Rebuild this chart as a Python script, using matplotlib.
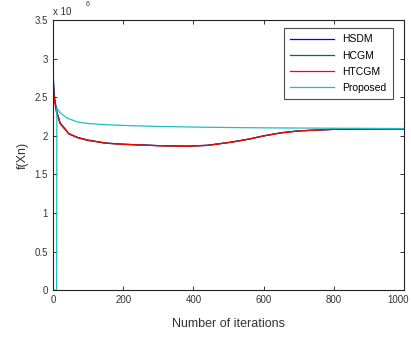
import numpy as np
import matplotlib.pyplot as plt
import matplotlib.transforms as mtransforms

plt.rcParams['font.family'] = ['Liberation Sans', 'DejaVu Sans']

it_main = [0, 2, 5, 10, 20, 45, 70, 100, 150, 200, 300, 380, 440, 510, 560, 600, 650, 700, 800, 900, 1000]
hsdm = [2.85, 2.65, 2.48, 2.33, 2.17, 2.03, 1.98, 1.945, 1.907, 1.892, 1.874, 1.867, 1.878, 1.92, 1.96, 2.0, 2.04, 2.065, 2.085, 2.09, 2.09]
hcgm = [2.8, 2.62, 2.46, 2.32, 2.165, 2.028, 1.978, 1.943, 1.906, 1.891, 1.873, 1.866, 1.877, 1.92, 1.96, 2.0, 2.04, 2.065, 2.085, 2.09, 2.09]
htcgm = [2.7, 2.56, 2.43, 2.3, 2.16, 2.025, 1.975, 1.94, 1.905, 1.89, 1.872, 1.865, 1.876, 1.919, 1.959, 1.999, 2.039, 2.064, 2.084, 2.089, 2.09]

it_prop = [0, 1, 10, 11, 20, 40, 70, 100, 150, 200, 300, 400, 500, 600, 800, 1000]
proposed = [3.15, 0, 0, 2.36, 2.3, 2.23, 2.18, 2.16, 2.145, 2.135, 2.122, 2.114, 2.108, 2.104, 2.099, 2.095]

fig = plt.figure(figsize=(4.11, 3.41), dpi=100)
ax = fig.add_axes([0.129, 0.149, 0.854, 0.792])

ax.plot(it_main, np.array(hsdm) * 1e6, color='#0000ff', lw=0.9, label='HSDM')
ax.plot(it_main, np.array(hcgm) * 1e6, color='#006f3a', lw=0.9, label='HCGM')
ax.plot(it_main, np.array(htcgm) * 1e6, color='#ff0000', lw=0.9, label='HTCGM')
ax.plot(it_prop, np.array(proposed) * 1e6, color='#1fbfbf', lw=0.9, label='Proposed')

ax.set_xlim(0, 1000)
ax.set_ylim(0, 3.5e6)
ax.set_xticks(range(0, 1001, 200))
ax.set_yticks(np.arange(0, 3.51e6, 0.5e6))
ax.set_yticklabels(['0', '0.5', '1', '1.5', '2', '2.5', '3', '3.5'])
ax.tick_params(direction='in', length=3, width=0.7, labelsize=7, colors='#333333',
               top=True, right=True)
for s in ax.spines.values():
    s.set_linewidth(0.8)
    s.set_color('#222222')

# pull the last x label inside the figure
last = ax.get_xticklabels()[-1]
last.set_transform(last.get_transform() + mtransforms.ScaledTranslation(-0.06, 0, fig.dpi_scale_trans))

ax.set_xlabel('Number of iterations', fontsize=9, color='#333333', labelpad=9)
ax.set_ylabel('f(Xn)', fontsize=9, color='#333333', labelpad=4)
ax.text(0, 1.012, 'x 10', transform=ax.transAxes, fontsize=7, color='#333333', va='bottom')
ax.text(0.093, 1.045, '6', transform=ax.transAxes, fontsize=5, color='#333333', va='bottom')

leg = ax.legend(loc='upper right', fontsize=7.5, frameon=True, fancybox=False,
                edgecolor='#222222', borderpad=0.6, handlelength=4.2, labelspacing=0.6,
                bbox_to_anchor=(0.983, 0.99))
leg.get_frame().set_linewidth(0.8)

fig.savefig('out.png', dpi=100)
